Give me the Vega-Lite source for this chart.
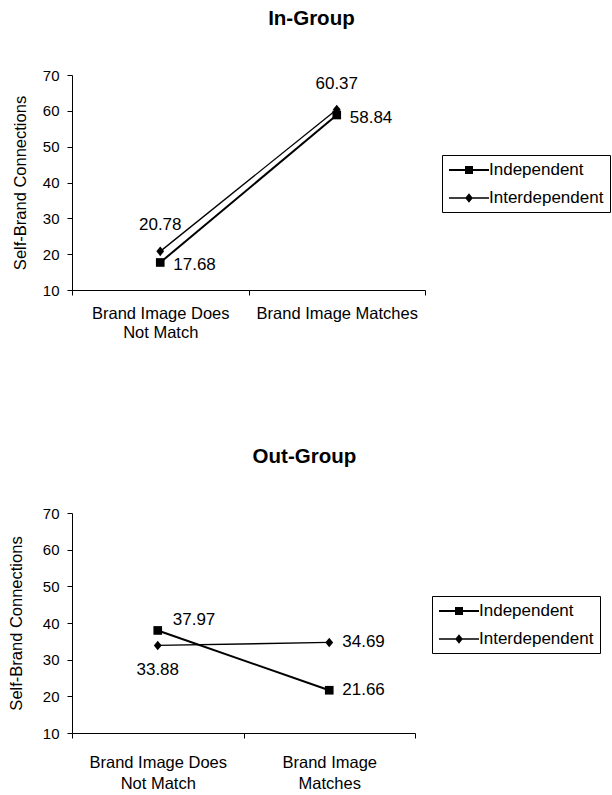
{
  "$schema": "https://vega.github.io/schema/vega-lite/v6.json",
  "padding": {"left": 8, "top": 8, "right": 0, "bottom": 0},
  "background": "white",
  "config": {
    "font": "Liberation Sans",
    "view": {"stroke": null},
    "axis": {
      "domainColor": "black", "tickColor": "black", "labelColor": "black", "titleColor": "black",
      "grid": false, "labelFontSize": 15, "titleFontSize": 16.5, "titleFontWeight": "normal",
      "tickSize": 5, "domainWidth": 1, "tickWidth": 1
    },
    "legend": {
      "labelFontSize": 17, "labelColor": "black", "strokeColor": "black", "padding": 6,
      "labelOffset": 11, "symbolOffset": 12, "rowPadding": 11, "symbolSize": 256,
      "symbolStrokeColor": "black", "symbolFillColor": "black", "symbolOpacity": 1
    },
    "title": {"fontSize": 20.5, "fontWeight": "bold", "color": "black", "frame": "bounds", "anchor": "middle"}
  },
  "data": {"values": [
    {"panel": "In-Group", "condition": "Brand Image Does Not Match", "group": "Independent", "value": 17.68},
    {"panel": "In-Group", "condition": "Brand Image Matches", "group": "Independent", "value": 58.84},
    {"panel": "In-Group", "condition": "Brand Image Does Not Match", "group": "Interdependent", "value": 20.78},
    {"panel": "In-Group", "condition": "Brand Image Matches", "group": "Interdependent", "value": 60.37},
    {"panel": "Out-Group", "condition": "Brand Image Does Not Match", "group": "Independent", "value": 37.97},
    {"panel": "Out-Group", "condition": "Brand Image Matches", "group": "Independent", "value": 21.66},
    {"panel": "Out-Group", "condition": "Brand Image Does Not Match", "group": "Interdependent", "value": 33.88},
    {"panel": "Out-Group", "condition": "Brand Image Matches", "group": "Interdependent", "value": 34.69}
  ]},
  "spacing": 105,
  "resolve": {"legend": {"shape": "independent"}, "scale": {"shape": "independent"}},
  "vconcat": [
    {
      "title": {"text": "In-Group", "offset": 39},
      "width": 353, "height": 215,
      "transform": [{"filter": "datum.panel === 'In-Group'"}],
      "resolve": {"scale": {"shape": "independent"}},
      "encoding": {
        "x": {"field": "condition", "type": "nominal", "sort": ["Brand Image Does Not Match", "Brand Image Matches"],
              "scale": {"paddingInner": 0, "paddingOuter": 0},
              "axis": {"title": null, "labelAngle": 0, "tickBand": "extent", "labelPadding": 10, "labelFontSize": 16.5, "labelLineHeight": 19,
                       "labelExpr": "datum.label === 'Brand Image Does Not Match' ? ['Brand Image Does', 'Not Match'] : datum.label === 'Brand Image Matches' ? 'Brand Image Matches' : ''"}},
        "y": {"field": "value", "type": "quantitative", "scale": {"domain": [10, 70], "nice": false},
              "axis": {"title": "Self-Brand Connections", "values": [10, 20, 30, 40, 50, 60, 70], "labelPadding": 8, "titlePadding": 14}}
      },
      "layer": [
        {"mark": {"type": "line", "color": "black"},
         "encoding": {"detail": {"field": "group"},
                      "strokeWidth": {"field": "group", "type": "nominal", "scale": {"domain": ["Independent", "Interdependent"], "range": [2, 1.3]}, "legend": null}}},
        {"mark": {"type": "point", "filled": true, "color": "black", "opacity": 1, "size": 75},
         "encoding": {"shape": {"field": "group", "type": "nominal", "scale": {"domain": ["Independent", "Interdependent"], "range": ["square", "M0,-1.1L0.9,0L0,1.1L-0.9,0Z"]}, "legend": null}}},
        {"mark": {"type": "point", "filled": true, "color": "black", "opacity": 0, "size": 75},
         "encoding": {"shape": {"field": "group", "type": "nominal",
                                "scale": {"domain": ["Independent", "Interdependent"], "range": ["M-2.5,-0.12L2.5,-0.12L2.5,0.12L-2.5,0.12ZM-0.5,-0.5L0.5,-0.5L0.5,0.5L-0.5,0.5Z", "M-2.5,-0.08L2.5,-0.08L2.5,0.08L-2.5,0.08ZM0,-0.6L0.48,0L0,0.6L-0.48,0Z"]},
                                "legend": {"title": null, "orient": "none", "legendX": 370, "legendY": 80, "symbolOpacity": 1,
                                           "encode": {"symbols": {"opacity": {"value": 1}}}}}}},
        {"transform": [{"filter": "datum.group === 'Interdependent'"}],
         "mark": {"type": "text", "fontSize": 17, "dy": -26, "align": "center", "baseline": "middle", "color": "black"},
         "encoding": {"text": {"field": "value", "type": "quantitative", "format": ".2f"}}},
        {"transform": [{"filter": "datum.group === 'Independent'"}],
         "mark": {"type": "text", "fontSize": 17, "dx": 13, "dy": 3, "align": "left", "baseline": "middle", "color": "black"},
         "encoding": {"text": {"field": "value", "type": "quantitative", "format": ".2f"}}}
      ]
    },
    {
      "title": {"text": "Out-Group", "offset": 39},
      "width": 343, "height": 220,
      "transform": [{"filter": "datum.panel === 'Out-Group'"}],
      "resolve": {"scale": {"shape": "independent"}},
      "encoding": {
        "x": {"field": "condition", "type": "nominal", "sort": ["Brand Image Does Not Match", "Brand Image Matches"],
              "scale": {"paddingInner": 0, "paddingOuter": 0},
              "axis": {"title": null, "labelAngle": 0, "tickBand": "extent", "labelPadding": 16, "labelFontSize": 16.5, "labelLineHeight": 21,
                       "labelExpr": "datum.label === 'Brand Image Does Not Match' ? ['Brand Image Does', 'Not Match'] : datum.label === 'Brand Image Matches' ? ['Brand Image', 'Matches'] : ''"}},
        "y": {"field": "value", "type": "quantitative", "scale": {"domain": [10, 70], "nice": false},
              "axis": {"title": "Self-Brand Connections", "values": [10, 20, 30, 40, 50, 60, 70], "labelPadding": 8, "titlePadding": 18}}
      },
      "layer": [
        {"mark": {"type": "line", "color": "black"},
         "encoding": {"detail": {"field": "group"},
                      "strokeWidth": {"field": "group", "type": "nominal", "scale": {"domain": ["Independent", "Interdependent"], "range": [2, 1.3]}, "legend": null}}},
        {"mark": {"type": "point", "filled": true, "color": "black", "opacity": 1, "size": 75},
         "encoding": {"shape": {"field": "group", "type": "nominal", "scale": {"domain": ["Independent", "Interdependent"], "range": ["square", "M0,-1.1L0.9,0L0,1.1L-0.9,0Z"]}, "legend": null}}},
        {"mark": {"type": "point", "filled": true, "color": "black", "opacity": 0, "size": 75},
         "encoding": {"shape": {"field": "group", "type": "nominal",
                                "scale": {"domain": ["Independent", "Interdependent"], "range": ["M-2.5,-0.12L2.5,-0.12L2.5,0.12L-2.5,0.12ZM-0.5,-0.5L0.5,-0.5L0.5,0.5L-0.5,0.5Z", "M-2.5,-0.08L2.5,-0.08L2.5,0.08L-2.5,0.08ZM0,-0.6L0.48,0L0,0.6L-0.48,0Z"]},
                                "legend": {"title": null, "orient": "none", "legendX": 360, "legendY": 83, "symbolOpacity": 1,
                                           "encode": {"symbols": {"opacity": {"value": 1}}}}}}},
        {"transform": [{"filter": "datum.group === 'Independent' && datum.condition === 'Brand Image Does Not Match'"}],
         "mark": {"type": "text", "fontSize": 17, "dx": 15, "dy": -10, "align": "left", "baseline": "middle", "color": "black"},
         "encoding": {"text": {"field": "value", "type": "quantitative", "format": ".2f"}}},
        {"transform": [{"filter": "datum.group === 'Interdependent' && datum.condition === 'Brand Image Does Not Match'"}],
         "mark": {"type": "text", "fontSize": 17, "dy": 25, "align": "center", "baseline": "middle", "color": "black"},
         "encoding": {"text": {"field": "value", "type": "quantitative", "format": ".2f"}}},
        {"transform": [{"filter": "datum.condition === 'Brand Image Matches'"}],
         "mark": {"type": "text", "fontSize": 17, "dx": 13, "dy": 0, "align": "left", "baseline": "middle", "color": "black"},
         "encoding": {"text": {"field": "value", "type": "quantitative", "format": ".2f"}}}
      ]
    }
  ]
}
